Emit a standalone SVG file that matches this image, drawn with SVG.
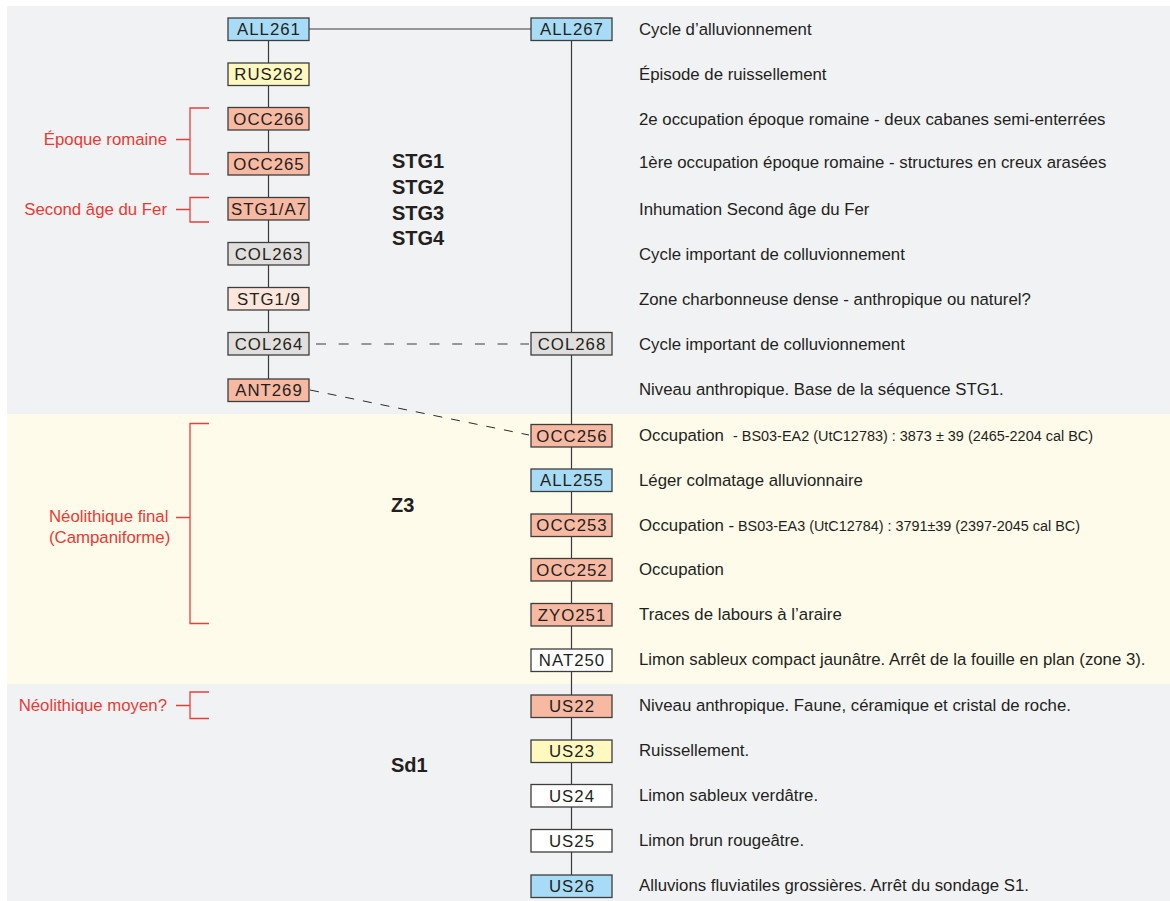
<svg xmlns="http://www.w3.org/2000/svg" width="1170" height="901" viewBox="0 0 1170 901">
<style>
.nb{stroke:#3d3d3d;stroke-width:1.3}
.blue{fill:#a8dcf6}.yel{fill:#fff9c0}.sal{fill:#f7b9a2}.gry{fill:#e1dfdd}.pnk{fill:#fde6dc}.wht{fill:#ffffff}
.nl{font-family:"Liberation Sans",Arial,sans-serif;font-size:16.8px;letter-spacing:1px;fill:#231f20;text-anchor:middle}
.ds{font-family:"Liberation Sans",Arial,sans-serif;font-size:16.8px;fill:#231f20}
.sm{font-size:14px}
.rd{font-family:"Liberation Sans",Arial,sans-serif;font-size:16.8px;fill:#ea3a34}
.big{font-family:"Liberation Sans",Arial,sans-serif;font-size:20px;font-weight:bold;fill:#231f20}
.ln{stroke:#3a3a3a;stroke-width:1.2;fill:none}
.br{stroke:#e8403a;stroke-width:1.3;fill:none}
</style>
<rect x="0" y="0" width="1170" height="901" fill="#ffffff"/>
<rect x="7" y="6" width="1163" height="895" fill="#f1f2f4"/>
<rect x="7" y="414" width="1163" height="270" fill="#fefbea"/>

<g id="connectors">
<line class="ln" x1="268.5" y1="40" x2="268.5" y2="379"/>
<line class="ln" x1="309" y1="29" x2="531" y2="29"/>
<line class="ln" x1="571.5" y1="40" x2="571.5" y2="875"/>
<line x1="311" y1="344" x2="529" y2="344" stroke="#7a7a7a" stroke-width="1.4" stroke-dasharray="10 12.7" stroke-dashoffset="-5"/>
<line x1="310" y1="390" x2="529" y2="435" stroke="#2a2a2a" stroke-width="1" stroke-dasharray="9 9"/>
</g>

<g id="brackets">
<path class="br" d="M209 108H190V174H209M176 139.5H190"/>
<path class="br" d="M209 197.5H190V222H209M176 209.5H190"/>
<path class="br" d="M209 423.5H190V623.5H209M176 517.5H190"/>
<path class="br" d="M209 692H190V718.5H209M176 705.5H190"/>
<text class="rd" x="167" y="145" text-anchor="end">Époque romaine</text>
<text class="rd" x="167" y="215" text-anchor="end">Second âge du Fer</text>
<text class="rd" x="49" y="522">Néolithique final</text>
<text class="rd" x="49" y="543">(Campaniforme)</text>
<text class="rd" x="167" y="711" text-anchor="end">Néolithique moyen?</text>
</g>

<g id="sequence-labels">
<text class="big" x="392" y="168">STG1</text>
<text class="big" x="392" y="193.5">STG2</text>
<text class="big" x="392" y="219.5">STG3</text>
<text class="big" x="392" y="245">STG4</text>
<text class="big" x="391" y="512">Z3</text>
<text class="big" x="391" y="772">Sd1</text>
</g>

<g id="ALL261"><rect class="nb blue" x="228" y="18" width="81" height="22.5"/><text class="nl" x="269" y="35">ALL261</text></g>
<g id="RUS262"><rect class="nb yel" x="228" y="63" width="81" height="22.5"/><text class="nl" x="269" y="80">RUS262</text></g>
<g id="OCC266"><rect class="nb sal" x="228" y="107.5" width="81" height="22.5"/><text class="nl" x="269" y="124.5">OCC266</text></g>
<g id="OCC265"><rect class="nb sal" x="228" y="152.5" width="81" height="22.5"/><text class="nl" x="269" y="169.5">OCC265</text></g>
<g id="STG1-A7"><rect class="nb sal" x="228" y="197.5" width="81" height="22.5"/><text class="nl" x="269" y="214.5">STG1/A7</text></g>
<g id="COL263"><rect class="nb gry" x="228" y="242.5" width="81" height="22.5"/><text class="nl" x="269" y="259.5">COL263</text></g>
<g id="STG1-9"><rect class="nb pnk" x="228" y="287.5" width="81" height="22.5"/><text class="nl" x="269" y="304.5">STG1/9</text></g>
<g id="COL264"><rect class="nb gry" x="228" y="332.5" width="81" height="22.5"/><text class="nl" x="269" y="349.5">COL264</text></g>
<g id="ANT269"><rect class="nb sal" x="228" y="379" width="81" height="22.5"/><text class="nl" x="269" y="396">ANT269</text></g>

<g id="ALL267"><rect class="nb blue" x="531" y="18" width="81" height="22.5"/><text class="nl" x="572" y="35">ALL267</text></g>
<g id="COL268"><rect class="nb gry" x="531" y="332.5" width="81" height="22.5"/><text class="nl" x="572" y="349.5">COL268</text></g>
<g id="OCC256"><rect class="nb sal" x="531" y="424.5" width="81" height="22.5"/><text class="nl" x="572" y="441.5">OCC256</text></g>
<g id="ALL255"><rect class="nb blue" x="531" y="469" width="81" height="22.5"/><text class="nl" x="572" y="486">ALL255</text></g>
<g id="OCC253"><rect class="nb sal" x="531" y="514" width="81" height="22.5"/><text class="nl" x="572" y="531">OCC253</text></g>
<g id="OCC252"><rect class="nb sal" x="531" y="558.5" width="81" height="22.5"/><text class="nl" x="572" y="575.5">OCC252</text></g>
<g id="ZYO251"><rect class="nb sal" x="531" y="603.5" width="81" height="22.5"/><text class="nl" x="572" y="620.5">ZYO251</text></g>
<g id="NAT250"><rect class="nb wht" x="531" y="649" width="81" height="22.5"/><text class="nl" x="572" y="666">NAT250</text></g>
<g id="US22"><rect class="nb sal" x="531" y="695" width="81" height="22.5"/><text class="nl" x="572" y="712">US22</text></g>
<g id="US23"><rect class="nb yel" x="531" y="740" width="81" height="22.5"/><text class="nl" x="572" y="757">US23</text></g>
<g id="US24"><rect class="nb wht" x="531" y="784.5" width="81" height="22.5"/><text class="nl" x="572" y="801.5">US24</text></g>
<g id="US25"><rect class="nb wht" x="531" y="829.5" width="81" height="22.5"/><text class="nl" x="572" y="846.5">US25</text></g>
<g id="US26"><rect class="nb blue" x="531" y="875" width="81" height="22.5"/><text class="nl" x="572" y="892">US26</text></g>

<g id="descriptions">
<text class="ds" x="639" y="34.5">Cycle d’alluvionnement</text>
<text class="ds" x="639" y="79.5">Épisode de ruissellement</text>
<text class="ds" x="639" y="124.5">2e occupation époque romaine - deux cabanes semi-enterrées</text>
<text class="ds" x="639" y="168">1ère occupation époque romaine - structures en creux arasées</text>
<text class="ds" x="639" y="215">Inhumation Second âge du Fer</text>
<text class="ds" x="639" y="260">Cycle important de colluvionnement</text>
<text class="ds" x="639" y="304.5">Zone charbonneuse dense - anthropique ou naturel?</text>
<text class="ds" x="639" y="349.5">Cycle important de colluvionnement</text>
<text class="ds" x="639" y="395">Niveau anthropique. Base de la séquence STG1.</text>
<text class="ds" x="639" y="441">Occupation<tspan class="sm" x="733" textLength="360" lengthAdjust="spacingAndGlyphs">- BS03-EA2 (UtC12783) : 3873 ± 39 (2465-2204 cal BC)</tspan></text>
<text class="ds" x="639" y="530.5">Occupation - <tspan class="sm" x="738" textLength="342" lengthAdjust="spacingAndGlyphs">BS03-EA3 (UtC12784) : 3791±39 (2397-2045 cal BC)</tspan></text>
<text class="ds" x="639" y="485.5">Léger colmatage alluvionnaire</text>
<text class="ds" x="639" y="574.5">Occupation</text>
<text class="ds" x="639" y="620">Traces de labours à l’araire</text>
<text class="ds" x="639" y="665">Limon sableux compact jaunâtre. Arrêt de la fouille en plan (zone 3).</text>
<text class="ds" x="639" y="711">Niveau anthropique. Faune, céramique et cristal de roche.</text>
<text class="ds" x="639" y="756">Ruissellement.</text>
<text class="ds" x="639" y="800.5">Limon sableux verdâtre.</text>
<text class="ds" x="639" y="845.5">Limon brun rougeâtre.</text>
<text class="ds" x="639" y="891">Alluvions fluviatiles grossières. Arrêt du sondage S1.</text>
</g>
</svg>
